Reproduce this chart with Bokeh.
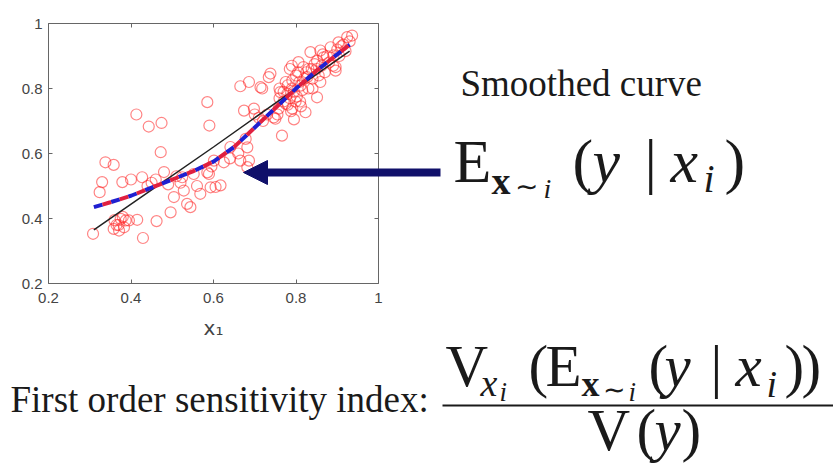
from bokeh.plotting import figure
from bokeh.models import Label, Arrow, NormalHead, LinearAxis, FixedTicker, Range1d
from bokeh.embed import file_html
from bokeh.resources import INLINE

# ---------------- data ----------------
scatter_x = [0.308, 0.324, 0.330, 0.338, 0.358, 0.358, 0.365, 0.371, 0.375, 0.379, 0.383, 0.387,
             0.380, 0.395, 0.415, 0.413, 0.427, 0.429, 0.443, 0.450, 0.462, 0.472, 0.474, 0.480,
             0.496, 0.504, 0.510, 0.524, 0.528, 0.536, 0.544, 0.552, 0.568, 0.585, 0.585, 0.590,
             0.589, 0.593, 0.601, 0.605, 0.617, 0.625, 0.641, 0.665, 0.665, 0.674, 0.678, 0.682,
             0.682, 0.686, 0.686, 0.698, 0.714, 0.718, 0.720, 0.734, 0.738, 0.746, 0.750, 0.755,
             0.758, 0.762, 0.766, 0.770, 0.775, 0.779, 0.780, 0.785, 0.788, 0.791, 0.791, 0.795,
             0.795, 0.799, 0.800, 0.802, 0.806, 0.808, 0.811, 0.812, 0.815, 0.818, 0.820, 0.823,
             0.825, 0.827, 0.830, 0.835, 0.838, 0.840, 0.845, 0.851, 0.851, 0.855, 0.859, 0.859,
             0.862, 0.867, 0.870, 0.875, 0.880, 0.884, 0.890, 0.891, 0.896, 0.896, 0.900, 0.903,
             0.905, 0.910, 0.915, 0.920, 0.924, 0.930, 0.936, 0.770, 0.780, 0.760, 0.805, 0.790,
             0.775, 0.810, 0.830, 0.850, 0.865, 0.840, 0.785, 0.790, 0.760, 0.730, 0.710, 0.700,
             0.660, 0.640, 0.595, 0.560, 0.520, 0.490, 0.460, 0.440, 0.400, 0.370, 0.360]
scatter_y = [0.353, 0.481, 0.512, 0.573, 0.565, 0.368, 0.380, 0.363, 0.399, 0.512, 0.373, 0.394,
             0.405, 0.394, 0.396, 0.720, 0.527, 0.340, 0.683, 0.510, 0.392, 0.604, 0.694, 0.543,
             0.419, 0.466, 0.530, 0.527, 0.486, 0.445, 0.435, 0.537, 0.476, 0.758, 0.542, 0.686,
             0.537, 0.496, 0.578, 0.497, 0.502, 0.573, 0.620, 0.578, 0.807, 0.732, 0.645, 0.619,
             0.558, 0.578, 0.820, 0.738, 0.804, 0.800, 0.700, 0.835, 0.846, 0.711, 0.707, 0.720,
             0.738, 0.789, 0.655, 0.760, 0.753, 0.784, 0.810, 0.770, 0.730, 0.825, 0.738, 0.705,
             0.790, 0.760, 0.840, 0.775, 0.881, 0.820, 0.809, 0.745, 0.795, 0.866, 0.830, 0.727,
             0.850, 0.835, 0.800, 0.912, 0.860, 0.830, 0.875, 0.773, 0.885, 0.840, 0.917, 0.820,
             0.870, 0.896, 0.850, 0.900, 0.880, 0.927, 0.870, 0.902, 0.866, 0.855, 0.920, 0.942,
             0.900, 0.930, 0.935, 0.915, 0.958, 0.945, 0.963, 0.790, 0.750, 0.770, 0.850, 0.800,
             0.820, 0.760, 0.860, 0.860, 0.905, 0.800, 0.860, 0.870, 0.800, 0.720, 0.710, 0.720,
             0.600, 0.585, 0.560, 0.500, 0.510, 0.505, 0.520, 0.500, 0.520, 0.380, 0.395]

true_x = [0.31, 0.45, 0.60, 0.75, 0.93]
true_y = [0.365, 0.488, 0.620, 0.755, 0.915]

smooth_x = [0.31, 0.35, 0.40, 0.45, 0.50, 0.55, 0.60, 0.65, 0.70, 0.75, 0.80, 0.85, 0.90, 0.93]
smooth_y = [0.435, 0.450, 0.470, 0.495, 0.520, 0.545, 0.575, 0.620, 0.680, 0.740, 0.800, 0.855, 0.905, 0.935]

tick_values = [0.2, 0.4, 0.6, 0.8, 1.0]
tick_labels = ["0.2", "0.4", "0.6", "0.8", "1"]
x_label = "x\u2081"

smoothed_text = "Smoothed curve"
index_text = "First order sensitivity index:"

# ---------------- layout helpers (picture px -> data units) ----------------
W, H = 833, 466
FX0, FX1, FY0, FY1 = 48, 378, 23, 283   # plot box in the picture


def dx(px):
    return 0.2 + (px - FX0) / (FX1 - FX0) * 0.8


def dy(py):
    return 0.2 + (FY1 - py) / (FY1 - FY0) * 0.8


# the frame covers the whole canvas
p = figure(width=W, height=H,
           x_range=Range1d(dx(0), dx(W)), y_range=Range1d(dy(H), dy(0)),
           output_backend="svg", toolbar_location=None,
           min_border_left=0, min_border_right=0, min_border_top=0, min_border_bottom=0)
p.grid.visible = False
p.background_fill_color = "white"
p.border_fill_color = "white"
p.outline_line_color = None

BOX = "#666666"
lo, hi = tick_values[0], tick_values[-1]
overrides = dict(zip(tick_values, tick_labels))
for ax in (p.xaxis[0], p.yaxis[0]):
    ax.fixed_location = lo
    ax.bounds = (lo, hi)
    ax.ticker = FixedTicker(ticks=tick_values)
    ax.major_label_overrides = overrides
    ax.major_tick_in = 4
    ax.major_tick_out = 0
    ax.minor_tick_line_color = None
    ax.axis_line_color = BOX
    ax.major_tick_line_color = BOX
    ax.major_label_text_font = "Liberation Sans"
    ax.major_label_text_font_size = "15px"
    ax.major_label_text_color = "#444444"
p.xaxis.major_label_standoff = 9
p.yaxis.major_label_standoff = 6
p.xaxis.axis_label = x_label
p.xaxis.axis_label_text_font = "DejaVu Sans"
p.xaxis.axis_label_text_font_style = "normal"
p.xaxis.axis_label_text_font_size = "20px"
p.xaxis.axis_label_text_color = "#444444"
p.xaxis.axis_label_standoff = 10

for loc in ("above", "right"):
    ax = LinearAxis(ticker=FixedTicker(ticks=tick_values), fixed_location=hi, bounds=(lo, hi),
                    major_tick_in=4, major_tick_out=0,
                    minor_tick_line_color=None, axis_line_color=BOX,
                    major_tick_line_color=BOX, major_label_text_color=None,
                    major_label_text_font_size="1px", major_label_standoff=0)
    p.add_layout(ax, loc)

# data marks
p.scatter(scatter_x, scatter_y, marker="circle", size=11, fill_color=None,
          line_color="#ff2020", line_alpha=0.55, line_width=1.2)
p.line(true_x, true_y, line_color="#222222", line_width=1.5)
p.line(smooth_x, smooth_y, line_color="#2020d0", line_width=4, line_dash="9 9")
p.line(smooth_x, smooth_y, line_color="#e02040", line_width=4, line_dash="9 9", line_dash_offset=9)

# arrow
navy = "#10106a"
p.add_layout(Arrow(end=NormalHead(size=24, fill_color=navy, line_color=navy),
                   x_start=dx(440), y_start=dy(172), x_end=dx(243), y_end=dy(172),
                   line_color=navy, line_width=8))

TXT = "#1a1a1a"
MID = 0.34   # text is drawn centred on its anchor: lift anchor from the wanted baseline


def lab(text, px, base, size, style="normal", font="Liberation Serif"):
    p.add_layout(Label(x=dx(px), y=dy(base - MID * size), text=text, text_font=font,
                       text_font_size=f"{size}px", text_font_style=style,
                       text_color=TXT, text_align="left", text_baseline="alphabetic"))


lab(smoothed_text, 460, 96, 37)
lab(index_text, 10, 412, 37)

top_formula = [("E", 453, 182, 62, "normal"), ("x", 491, 193, 38, "bold"),
               ("\u223c", 514, 196, 28, "normal"), ("i", 543, 198, 28, "italic"),
               ("(", 572, 182, 62, "normal"), ("y", 592, 182, 62, "italic"),
               ("|", 644, 182, 62, "normal"), ("x", 670, 182, 62, "italic"),
               ("i", 703, 192, 40, "italic"), (")", 724, 182, 62, "normal")]
numerator = [("V", 445, 386, 59, "normal"), ("x", 480, 395, 38, "italic"),
             ("i", 499, 401, 27, "italic"), ("(", 528, 386, 59, "normal"),
             ("E", 545, 386, 59, "normal"), ("x", 581, 396, 36, "bold"),
             ("\u223c", 602, 399, 27, "normal"), ("i", 628, 401, 27, "italic"),
             ("(", 648, 386, 59, "normal"), ("y", 664, 386, 59, "italic"),
             ("|", 710, 386, 59, "normal"), ("x", 735, 386, 59, "italic"),
             ("i", 766, 396, 38, "italic"), (")", 784, 386, 59, "normal"),
             (")", 801, 386, 59, "normal")]
denominator = [("V", 587, 450, 59, "normal"), ("(", 636, 450, 59, "normal"),
               ("y", 654, 450, 59, "italic"), (")", 681, 450, 59, "normal")]
for t, px, py, s, st in top_formula + numerator + denominator:
    lab(t, px, py, s, st)

# fraction bar
p.add_layout(Arrow(end=None, x_start=dx(442), y_start=dy(405), x_end=dx(W), y_end=dy(405),
                   line_color=TXT, line_width=2))

open("out.html", "w").write(file_html(p, INLINE))
